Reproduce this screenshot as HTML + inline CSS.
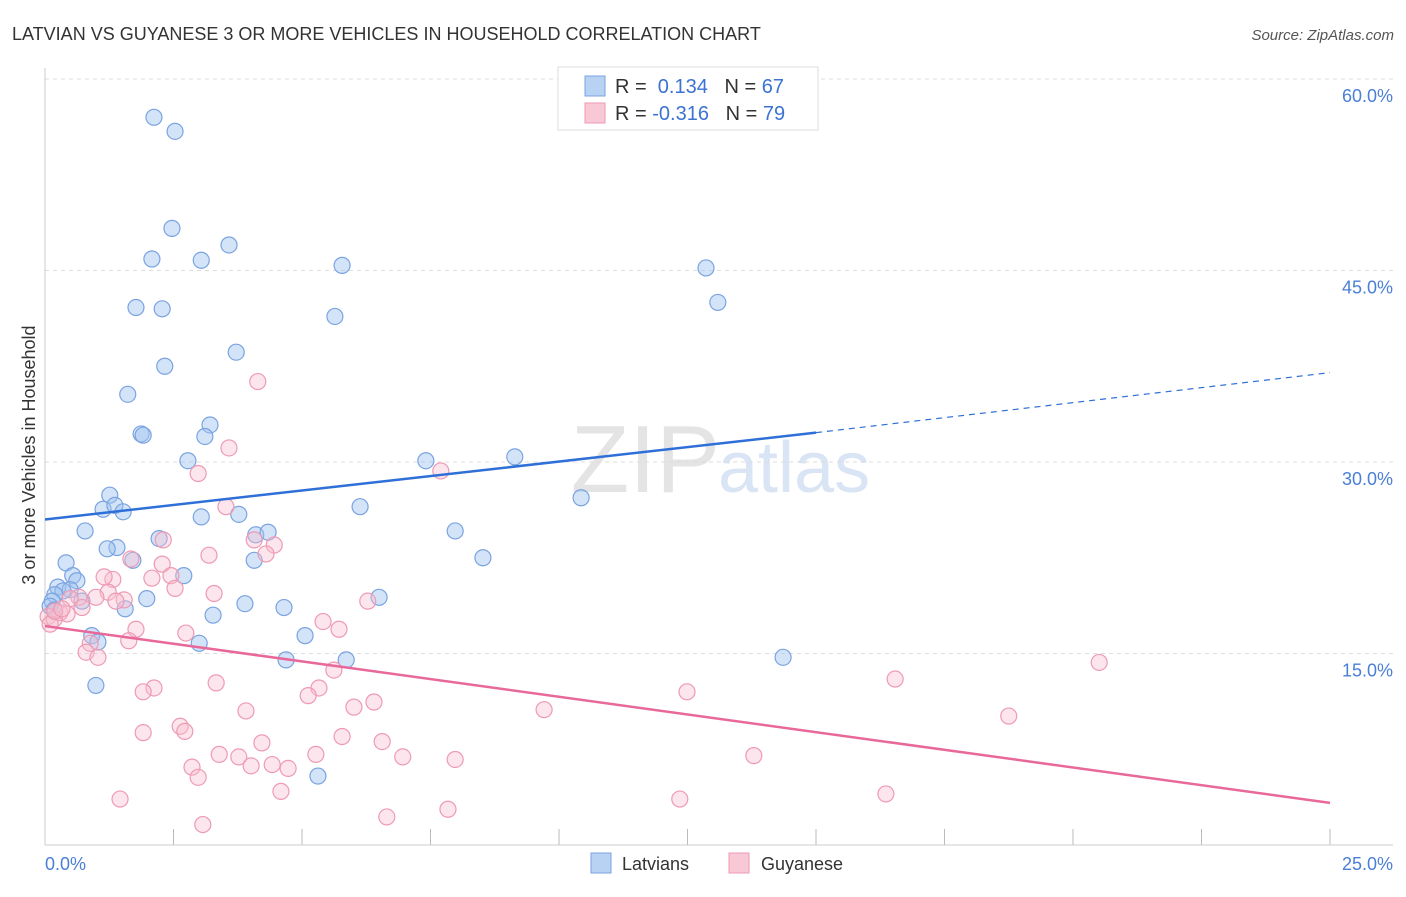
<!DOCTYPE html>
<html><head><meta charset="utf-8"><style>
body{margin:0;background:#fff;font-family:"Liberation Sans",sans-serif;}
svg text{font-family:"Liberation Sans",sans-serif;}
</style></head><body>
<svg width="1406" height="892">
<text x="12" y="40" font-size="18" fill="#333">LATVIAN VS GUYANESE 3 OR MORE VEHICLES IN HOUSEHOLD CORRELATION CHART</text>
<text x="1394" y="40" font-size="15" fill="#555" font-style="italic" text-anchor="end">Source: ZipAtlas.com</text>
<text x="720" y="492" font-size="96" fill="#e4e4e4" font-family="Liberation Serif" text-anchor="end">ZIP</text>
<text x="718" y="492" font-size="72" fill="#d9e4f4">atlas</text>
<g id="grid"></g>
<line x1="45" y1="68" x2="45" y2="845" stroke="#ccc"/>
<line x1="45" y1="845" x2="1393" y2="845" stroke="#ccc"/>
<text x="35" y="455" font-size="18" fill="#333" text-anchor="middle" transform="rotate(-90 35 455)">3 or more Vehicles in Household</text>
<text x="45" y="870" font-size="18" fill="#4a7fd6">0.0%</text>
<text x="1393" y="870" font-size="18" fill="#4a7fd6" text-anchor="end">25.0%</text>
<g id="marks"></g>
<g>
<rect x="558" y="67" width="260" height="63" fill="#fff" stroke="#ddd"/>
<rect x="585" y="76" width="20" height="20" fill="#b8d2f4" stroke="#7aa3e0"/>
<rect x="585" y="103" width="20" height="20" fill="#f9c8d6" stroke="#ee9ab4"/>
<text x="615" y="93" font-size="20" fill="#333">R = <tspan fill="#3b72d4">&#160;0.134</tspan>&#160;&#160;&#160;N = <tspan fill="#3b72d4">67</tspan></text>
<text x="615" y="120" font-size="20" fill="#333">R = <tspan fill="#3b72d4">-0.316</tspan>&#160;&#160;&#160;N = <tspan fill="#3b72d4">79</tspan></text>
</g>
<g>
<rect x="591" y="853" width="20" height="20" fill="#b8d2f4" stroke="#7aa3e0"/>
<text x="622" y="870" font-size="18" fill="#333">Latvians</text>
<rect x="729" y="853" width="20" height="20" fill="#f9c8d6" stroke="#ee9ab4"/>
<text x="761" y="870" font-size="18" fill="#333">Guyanese</text>
</g>
</svg>
<script>
const yTicks=[15,30,45,60];
const xTickVals=[0,2.5,5,7.5,10,12.5,15,17.5,20,22.5,25];
const latviansX=[2.12,2.53,2.47,2.08,3.04,3.58,5.78,12.86,13.09,1.77,2.28,5.64,3.72,2.33,1.61,3.21,1.87,1.91,3.11,2.78,7.41,9.14,10.43,1.26,1.13,1.36,1.52,3.04,3.77,6.13,7.98,0.78,4.10,4.34,2.22,1.40,1.21,1.71,0.41,4.07,8.52,0.54,0.62,2.70,0.25,0.49,0.35,0.19,1.98,3.89,4.65,6.50,0.14,0.72,1.56,3.27,0.91,1.03,5.06,3.00,5.86,4.69,14.36,0.99,5.31,0.10,0.18];
const latviansY=[57.0,55.9,48.3,45.9,45.8,47.0,45.4,45.2,42.5,42.1,42.0,41.4,38.6,37.5,35.3,32.9,32.2,32.1,32.0,30.1,30.1,30.4,27.2,27.4,26.3,26.6,26.1,25.7,25.9,26.5,24.6,24.6,24.3,24.5,24.0,23.3,23.2,22.3,22.1,22.3,22.5,21.1,20.7,21.1,20.2,20.0,19.9,19.6,19.3,18.9,18.6,19.4,19.1,19.1,18.5,18.0,16.4,15.9,16.4,15.8,14.5,14.5,14.7,12.5,5.4,18.7,18.4];
const guyX=[4.14,3.58,7.70,2.98,3.52,4.07,2.30,4.46,4.30,3.19,1.67,2.28,2.45,2.08,1.32,1.15,2.53,3.29,6.28,1.23,0.99,1.54,0.66,1.38,0.49,0.72,0.29,0.06,0.43,0.18,0.10,5.41,5.72,1.77,2.74,0.88,1.63,0.80,1.03,5.62,5.33,16.54,20.51,5.12,2.12,1.91,12.49,3.33,6.40,6.01,3.91,9.71,18.75,2.63,2.72,1.91,5.78,4.22,6.56,3.39,5.27,3.77,6.96,13.79,7.98,2.86,4.01,4.42,4.73,2.98,4.59,1.46,12.35,16.36,7.84,6.65,3.07,0.19,0.33];
const guyY=[36.3,31.1,29.3,29.1,26.5,23.9,23.9,23.5,22.8,22.7,22.4,22.0,21.1,20.9,20.8,21.0,20.1,19.7,19.1,19.8,19.4,19.2,19.4,19.1,19.3,18.6,18.2,17.9,18.1,17.7,17.3,17.5,16.9,16.9,16.6,15.8,16.0,15.1,14.7,13.7,12.3,13.0,14.3,11.7,12.3,12.0,12.0,12.7,11.2,10.8,10.5,10.6,10.1,9.3,8.9,8.8,8.5,8.0,8.1,7.1,7.1,6.9,6.9,7.0,6.7,6.1,6.2,6.3,6.0,5.3,4.2,3.6,3.6,4.0,2.8,2.2,1.6,18.3,18.5];
const blueFit=[0,25.5,15,32.3,25,37.0];
const pinkFit=[0,17.15,25,3.3];
const X=v=>45+v/25*1285, Y=v=>845-v/15*191.5;
const ns='http://www.w3.org/2000/svg';
const grid=document.getElementById('grid'), marks=document.getElementById('marks');
function mk(tag,at,parent){const e=document.createElementNS(ns,tag);for(const k in at)e.setAttribute(k,at[k]);parent.appendChild(e);return e;}
yTicks.forEach(t=>{
 const l=mk('line',{x1:45,x2:1393,y1:Y(t),y2:Y(t),stroke:'#ddd','stroke-dasharray':'4,4'},grid);
 
 
 const tx=mk('text',{x:1393,y:Y(t)+23,'font-size':18,fill:'#4a7fd6','text-anchor':'end'},grid);
 tx.textContent=t.toFixed(1)+'%';
 
 
});
xTickVals.forEach(t=>{
 const l=mk('line',{x1:X(t),x2:X(t),y1:829,y2:845,stroke:'#bbb'},grid);
 
 
});
latviansX.forEach((v,i)=>{
 const c=mk('circle',{cx:X(v),cy:Y(latviansY[i]),r:8,fill:'rgba(160,195,240,0.45)',stroke:'#7aa3e0','stroke-width':1.2},marks);
 
 
});
guyX.forEach((v,i)=>{
 const c=mk('circle',{cx:X(v),cy:Y(guyY[i]),r:8,fill:'rgba(248,190,208,0.4)',stroke:'#ee9ab4','stroke-width':1.2},marks);
 
 
});
const b1=mk('line',{x1:X(blueFit[0]),y1:Y(blueFit[1]),x2:X(blueFit[2]),y2:Y(blueFit[3]),stroke:'#2f6fd8','stroke-width':2.5},marks);


const b2=mk('line',{x1:X(blueFit[2]),y1:Y(blueFit[3]),x2:X(blueFit[4]),y2:Y(blueFit[5]),stroke:'#2f6fd8','stroke-width':1.2,'stroke-dasharray':'6,5'},marks);


const p1=mk('line',{x1:X(pinkFit[0]),y1:Y(pinkFit[1]),x2:X(pinkFit[2]),y2:Y(pinkFit[3]),stroke:'#e8689a','stroke-width':2.5},marks);


</script>
</body></html>
